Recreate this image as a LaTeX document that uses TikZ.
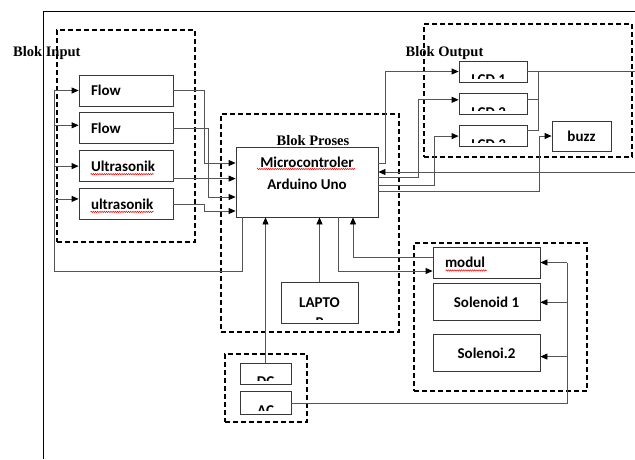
\documentclass[tikz,border=0pt]{standalone}
\usepackage{fontspec}
\setmainfont{Carlito}
\newfontfamily\blokfont{Liberation Serif}
\usetikzlibrary{arrows.meta,positioning,decorations.pathmorphing}
\definecolor{boxline}{HTML}{383838}
\definecolor{wiregray}{HTML}{555555}
\newcommand\boxfont{\fontsize{15}{20}\selectfont\bfseries}

\begin{document}
\begin{tikzpicture}[x=1pt, y=-1pt,
  unit/.style={draw=boxline, line width=0.8pt, font=\boxfont, inner sep=0pt, align=center},
  inunit/.style={unit, minimum width=94pt, minimum height=31pt, text width=70pt, align=left},
  cuttext/.style={font=\boxfont, inner sep=0pt, minimum width=0pt, minimum height=0pt, text width={}, draw=none},
  cutunit/.style 2 args={unit, path picture={
      \clip ([yshift=4pt]path picture bounding box.south west) rectangle (path picture bounding box.north east);
      \node[cuttext, align=center, anchor=north] at ([yshift=-#1]path picture bounding box.north) {#2};}},
  lcdunit/.style={unit, minimum width=68pt, minimum height=21pt, path picture={
      \clip ([yshift=4pt]path picture bounding box.south west) rectangle (path picture bounding box.north east);
      \node[cuttext, anchor=north west] at ([shift={(12pt,-13.5pt)}]path picture bounding box.north west) {#1};}},
  grp/.style={draw, dash pattern=on 5pt off 3pt, line width=1.6pt, inner sep=0pt},
  blabel/.style={font=\blokfont\fontsize{14.5}{16}\selectfont\bfseries, inner sep=0pt},
  wire/.style={draw=wiregray, line width=0.8pt},
  arr/.style={wire, -{Triangle[length=7pt, width=6pt, color=black]}},
  squig/.style={red, line width=0.5pt, decorate, decoration={zigzag, amplitude=0.7pt, segment length=2.2pt}}
]
  \useasboundingbox (0,0) rectangle (635,459);
  \draw[line width=0.8pt] (43,459) -- (43,11) -- (635,11);

  \node[grp, minimum width=138pt, minimum height=212pt] (ingrp) at (126,136) {};
  \node[grp, minimum width=178pt, minimum height=218pt] (prosesgrp) at (310,223) {};
  \node[grp, minimum width=208pt, minimum height=133pt] (outgrp) at (528,90.5) {};
  \node[grp, minimum width=173pt, minimum height=148pt] (actgrp) at (500.5,317) {};
  \node[grp, minimum width=82pt, minimum height=68pt] (pwrgrp) at (266,388) {};

  \node[blabel, anchor=west] (inlabel) at (13,53) {Blok Input};
  \node[blabel] (outlabel) at (444.5,53) {Blok Output};

  \node[inunit] (flow1) at (126,90.5) {Flow};
  \node[inunit, below=6pt of flow1] (flow2) {Flow};
  \node[inunit, below=6pt of flow2] (ultra1) {Ultrasonik};
  \node[inunit, below=6pt of ultra1] (ultra2) {ultrasonik};

  \node[unit, minimum width=142pt, minimum height=70pt] (mcu) at (307,182) {};
  \node[font=\fontsize{15}{22}\selectfont\bfseries, align=center, inner sep=0pt] (mcutext) at ([yshift=9pt]mcu.center) {Microcontroler\\Arduino Uno};
  \node[blabel, above=1pt of mcu, xshift=6pt] (proseslabel) {Blok Proses};
  \node[cutunit={15pt}{LAPTO\\P}, minimum width=77pt, minimum height=41pt] (laptop) at (319.5,302.5) {};

  \node[lcdunit={LCD 1}] (lcd1) at (493,71.5) {};
  \node[lcdunit={LCD 2}, below=11pt of lcd1] (lcd2) {};
  \node[lcdunit={LCD 3}, below=10pt of lcd2] (lcd3) {};
  \node[unit, minimum width=59pt, minimum height=30pt] (buzz) at (581.5,136) {buzz};

  \node[unit, minimum width=107pt, minimum height=31pt, text width=83pt, align=left] (modul) at (486.5,262.5) {modul};
  \node[unit, minimum width=107pt, minimum height=37pt, below=5pt of modul] (sol1) {Solenoid 1};
  \node[unit, minimum width=107pt, minimum height=37pt, below=13pt of sol1] (sol2) {Solenoi.2};

  \node[cutunit={13pt}{DC}, minimum width=51pt, minimum height=21pt] (dc) at (265.5,373.5) {};
  \node[cutunit={13pt}{AC}, minimum width=51pt, minimum height=23pt, below=7pt of dc] (ac) {};

  \draw[squig] ([shift={(12pt,-8pt)}]ultra1.west) -- ++(63pt,0);
  \draw[squig] ([shift={(12pt,-8pt)}]ultra2.west) -- ++(63pt,0);
  \draw[squig] ([shift={(-50pt,13pt)}]mcu.center) -- ++(98pt,0);
  \draw[squig] ([shift={(13pt,-8pt)}]modul.west) -- ++(41pt,0);

  \coordinate (fb) at (54,271);
  \coordinate (rim) at (635,172);
  \coordinate (bus) at ([xshift=27pt]modul.east);

  \draw[arr] (flow1.east) -- ++(31pt,0) |- ([yshift=19pt]mcu.west);
  \draw[arr] (flow2.east) -- ++(35pt,0) |- ([yshift=-15pt]mcu.west);
  \draw[arr] ([yshift=-12.5pt]ultra1.east) -- ([yshift=-12.5pt]ultra1.east -| mcu.west);
  \draw[arr] (ultra2.east) -- ++(31pt,0) |- ([yshift=-29pt]mcu.west);

  \draw[wire] ([xshift=7pt]mcu.south west) |- (fb) -- (fb |- flow1.west);
  \draw[arr] (fb |- flow1.west) -- (flow1.west);
  \draw[arr] ([yshift=3pt]flow2.west -| fb) -- ([yshift=3pt]flow2.west);
  \draw[arr] (ultra1.west -| fb) -- (ultra1.west);
  \draw[arr] ([yshift=5pt]ultra2.west -| fb) -- ([yshift=5pt]ultra2.west);

  \draw[arr] ([yshift=19pt]mcu.east) -- ++(7pt,0) |- (lcd1.west);
  \draw[arr] ([yshift=5pt]mcu.east) -- ++(40pt,0) |- ([yshift=4.5pt]lcd2.west);
  \draw[arr] ([yshift=-3pt]mcu.east) -- ++(56pt,0) |- (lcd3.west);
  \draw[arr] ([yshift=-9pt]mcu.east) -- ++(161pt,0) |- (buzz.west);
  \draw[arr] (rim) -- (rim -| mcu.east);

  \draw[wire] (lcd1.east) -- (lcd1.east -| rim);
  \draw[wire] ([xshift=11pt]lcd1.east) |- ([yshift=5.5pt]lcd3.east);
  \draw[wire] ([yshift=4.5pt]lcd2.east) -- ++(11pt,0);

  \draw[arr] (dc.north) -- (dc.north |- mcu.south);
  \draw[arr] (laptop.north) -- (laptop.north |- mcu.south);
  \draw[arr] ([xshift=31pt]mcu.south) |- ([yshift=-8.5pt]modul.west);
  \draw[arr] ([yshift=5.5pt]modul.west) -| ([xshift=46pt]mcu.south);

  \draw[wire] (ac.east) -| (bus);
  \draw[arr] (bus) -- (modul.east);
  \draw[arr] (sol1.east -| bus) -- (sol1.east);
  \draw[arr] ([yshift=-3.5pt]sol2.east -| bus) -- ([yshift=-3.5pt]sol2.east);
\end{tikzpicture}
\end{document}
